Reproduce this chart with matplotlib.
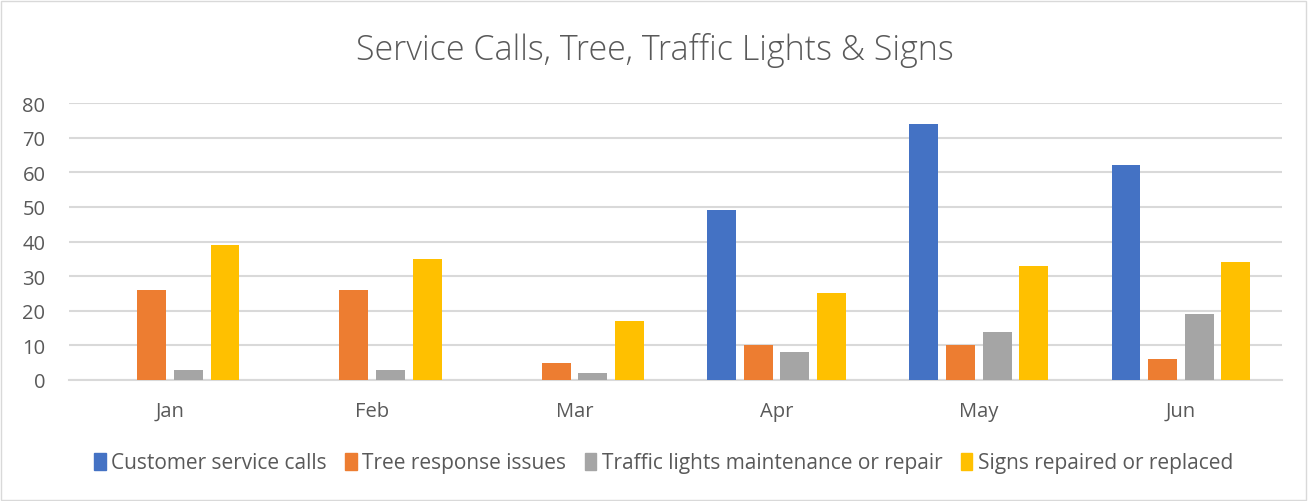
import numpy as np
import matplotlib.pyplot as plt
from matplotlib.patches import Rectangle, Patch

months = ['Jan', 'Feb', 'Mar', 'Apr', 'May', 'Jun']
customer_calls = [0, 0, 0, 49, 74, 62]
tree_issues = [26, 26, 5, 10, 10, 6]
traffic_lights = [3, 3, 2, 8, 14, 19]
signs = [39, 35, 17, 25, 33, 34]
series_names = ['Customer service calls', 'Tree response issues',
                'Traffic lights maintenance or repair', 'Signs repaired or replaced']
colors = ['#4472C4', '#ED7D31', '#A5A5A5', '#FFC000']

plt.rcParams['font.family'] = ['Open Sans', 'DejaVu Sans']
text_color = '#595959'

fig = plt.figure(figsize=(13.09, 5.02), dpi=100)
ax = fig.add_axes([69/1309, 1-381/502, (1282-69)/1309, (381-104)/502])

X = np.arange(len(months))
step = 0.181
width = 0.143
data = [customer_calls, tree_issues, traffic_lights, signs]
for k in range(4):
    ax.bar(X + (k - 1.5)*step, data[k], width=width, color=colors[k],
           label=series_names[k], zorder=3)

ax.set_xlim(-0.5, 5.5)
ax.set_ylim(0, 80)
ax.set_yticks(range(0, 81, 10))
ax.set_xticks(X, months)
ax.grid(axis='y', color='#D9D9D9', linewidth=1.5, zorder=0)
for s in ['top', 'right', 'left']:
    ax.spines[s].set_visible(False)
ax.spines['bottom'].set_color('#D9D9D9')
ax.spines['bottom'].set_linewidth(1.5)
ax.tick_params(axis='both', length=0, labelsize=14.5, labelcolor=text_color)
ax.tick_params(axis='x', pad=15)
ax.tick_params(axis='y', pad=17)

fig.suptitle('Service Calls, Tree, Traffic Lights & Signs', y=1-50/502, va='center',
             fontsize=24.5, color=text_color, fontweight='light')

handles = [Patch(color=c) for c in colors]
fig.legend(handles, series_names, loc='center', bbox_to_anchor=(0.507, 1-464/502),
           ncol=4, frameon=False, fontsize=15, labelcolor=text_color,
           handlelength=0.55, handleheight=0.9, handletextpad=0.25, columnspacing=0.9)

fig.patches.append(Rectangle((0.001, 0.002), 0.997, 0.995, transform=fig.transFigure,
                             fill=False, edgecolor='#D9D9D9', linewidth=1))

fig.savefig('out.png', dpi=100)
